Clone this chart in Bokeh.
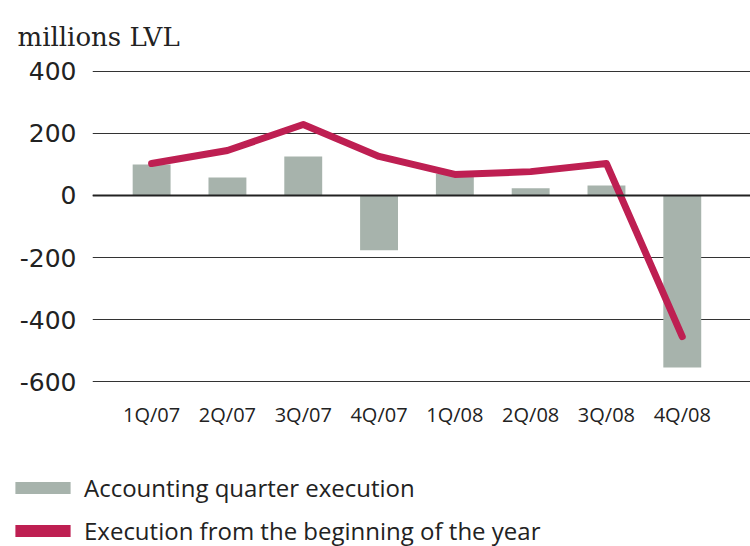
from bokeh.plotting import figure
from bokeh.models import Range1d, Span, Legend, LegendItem, ColumnDataSource, FixedTicker, Title
from bokeh.embed import file_html
from bokeh.resources import INLINE

categories = ["1Q/07", "2Q/07", "3Q/07", "4Q/07", "1Q/08", "2Q/08", "3Q/08", "4Q/08"]
quarter_execution = [100, 58, 126, -177, 70, 23, 32, -555]
cumulative_execution = [103, 145, 229, 126, 68, 77, 103, -455]
y_ticks = [-600, -400, -200, 0, 200, 400]
series_names = ["Accounting quarter execution", "Execution from the beginning of the year"]

BAR = "#a7b3ac"
RED = "#be1f52"
TXT = "#222222"

xs = list(range(len(categories)))
src = ColumnDataSource(dict(x=xs, q=quarter_execution, c=cumulative_execution))

p = figure(width=750, height=446, output_backend="svg", toolbar_location=None,
           x_range=Range1d(-0.78, 7.9), y_range=Range1d(-603.2, 403.2),
           min_border_left=92, min_border_right=0, min_border_top=70, min_border_bottom=64)
p.outline_line_color = None

p.vbar(x="x", top="q", bottom=0, width=0.5, source=src, fill_color=BAR, line_color=None)
p.line(x="x", y="c", source=src, line_color=RED, line_width=7, line_join="round", line_cap="round")
p.add_layout(Span(location=0, dimension="width", line_color=TXT, line_width=2))

p.xgrid.grid_line_color = None
p.ygrid.grid_line_color = "#333333"
p.ygrid.grid_line_width = 1
p.yaxis.ticker = FixedTicker(ticks=y_ticks)
p.yaxis.major_label_overrides = {t: str(t) for t in y_ticks}
p.xaxis.ticker = FixedTicker(ticks=xs)
p.xaxis.major_label_overrides = {i: c for i, c in enumerate(categories)}
for ax in (p.xaxis[0], p.yaxis[0]):
    ax.axis_line_color = None
    ax.major_tick_line_color = None
    ax.minor_tick_line_color = None
    ax.major_label_text_color = TXT
p.yaxis.major_label_text_font = "DejaVu Sans"
p.yaxis.major_label_text_font_size = "25px"
p.yaxis.major_label_standoff = 10
p.xaxis.major_label_text_font = "Open Sans"
p.xaxis.major_label_text_font_size = "20px"
p.xaxis.major_label_standoff = 12

p.add_layout(Title(text="millions LVL", align="left", offset=-75, text_font="DejaVu Serif",
                   text_font_size="26px", text_font_style="normal", text_color=TXT,
                   standoff=37), "above")

# legend panel (separate root, placed below the chart)
lg = figure(width=750, height=100, output_backend="svg", toolbar_location=None,
            x_range=Range1d(100, 101), y_range=Range1d(0, 1), x_axis_type=None, y_axis_type=None,
            min_border=0, min_border_left=0, min_border_right=0, min_border_top=0, min_border_bottom=0)
lg.outline_line_color = None
lg.grid.grid_line_color = None
r1 = lg.vbar(x="x", top="q", width=0.5, source=src, fill_color=BAR, line_color=None, visible=False)
r2 = lg.vbar(x="x", top="c", width=0.5, source=src, fill_color=RED, line_color=None, visible=False)
legend = Legend(items=[LegendItem(label=series_names[0], renderers=[r1]),
                       LegendItem(label=series_names[1], renderers=[r2])],
                location=(8, -1), orientation="vertical",
                glyph_width=69, glyph_height=15, label_height=24, label_standoff=7,
                label_text_font="Open Sans", label_text_font_size="24px",
                label_text_color=TXT, spacing=10, padding=0, margin=0,
                border_line_color=None, background_fill_alpha=0, inactive_fill_alpha=0)
lg.add_layout(legend, "center")

open("out.html", "w").write(file_html([p, lg], INLINE))
